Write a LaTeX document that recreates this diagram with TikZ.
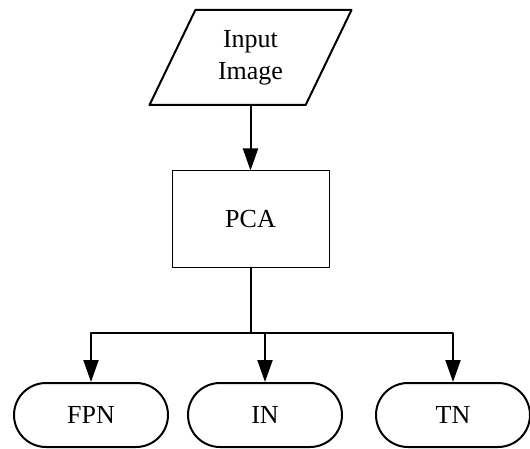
\documentclass[tikz,border=0pt]{standalone}
\usepackage{fontspec}
\setmainfont{Liberation Serif}
\usetikzlibrary{positioning,shapes.geometric,shapes.misc,arrows.meta}

\begin{document}
\begin{tikzpicture}[x=1pt,y=-1pt, font=\fontsize{26}{32}\selectfont, line cap=round, line join=round]
	% ===== styles =====
	\tikzset{
		io/.style={draw, line width=2pt, trapezium, trapezium left angle=50, trapezium right angle=130,
			trapezium stretches body, minimum width=202pt, minimum height=95pt, align=center, inner sep=0pt},
		proc/.style={draw, line width=1pt, minimum width=157pt, minimum height=96pt, inner sep=0pt},
		term/.style={draw, line width=2pt, rounded rectangle, minimum width=154pt, minimum height=64pt, inner sep=0pt},
		arr/.style={line width=2pt, -{Triangle[width=15pt,length=22pt]}}
	}
	\useasboundingbox (0,0) rectangle (530,449);
	
	% ===== nodes =====
	\node[io] (input) at (250.5,57.5) {Input\\Image};
	\node[proc] (pca) at (250.5,219) {PCA};
	
	\node[term] (fpn) at (91,415) {FPN};
	\node[term] (in) at (265,415) {IN};
	\node[term] (tn) at (453,415) {TN};
	
	% ===== arrows =====
	\coordinate (split) at (250.5,333);
	\draw[arr] (input) -- (pca);
	\draw[line width=2pt] (pca) -- (split);
	\foreach \n in {fpn,in,tn}{
		\draw[arr] (split) -| (\n);
	}
\end{tikzpicture}
\end{document}
